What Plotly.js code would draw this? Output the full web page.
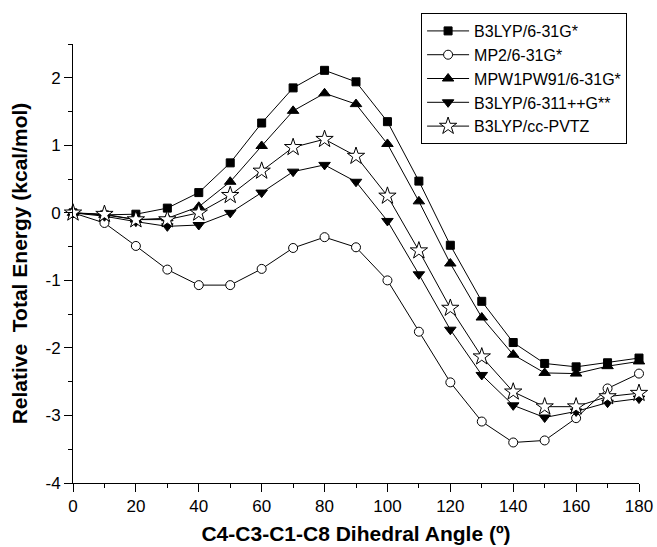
<!DOCTYPE html>
<html>
<head>
<meta charset="utf-8">
<script src="https://cdn.plot.ly/plotly-3.0.1.min.js"></script>
<style>html,body{margin:0;padding:0;background:#fff;}#chart{width:657px;height:547px;}</style>
</head>
<body>
<div id="chart"></div>
<script>
var angles = [0,10,20,30,40,50,60,70,80,90,100,110,120,130,140,150,160,170,180];
var b3lyp631 = [0,-0.03,-0.02,0.07,0.30,0.74,1.33,1.85,2.11,1.94,1.35,0.47,-0.48,-1.31,-1.92,-2.23,-2.28,-2.22,-2.15];
var mp2 = [0,-0.15,-0.49,-0.84,-1.07,-1.07,-0.83,-0.52,-0.36,-0.51,-1.00,-1.76,-2.51,-3.09,-3.40,-3.37,-3.04,-2.60,-2.38];
var mpw1 = [0,-0.03,-0.10,-0.08,0.09,0.46,0.99,1.51,1.77,1.61,1.02,0.17,-0.75,-1.55,-2.10,-2.37,-2.38,-2.27,-2.20];
var b3lyp6311 = [0,-0.05,-0.13,-0.20,-0.18,0.00,0.30,0.61,0.71,0.46,-0.12,-0.91,-1.73,-2.40,-2.85,-3.03,-2.94,-2.81,-2.75];
var b3lypcc = [0,-0.02,-0.10,-0.10,0.00,0.26,0.62,0.97,1.09,0.84,0.25,-0.56,-1.41,-2.13,-2.65,-2.87,-2.87,-2.72,-2.67];
var names = ['B3LYP/6-31G*','MP2/6-31G*','MPW1PW91/6-31G*','B3LYP/6-311++G**','B3LYP/cc-PVTZ'];
var yTickVals = [-4,-3,-2,-1,0,1,2];
var yTickText = ['-4','-3','-2','-1','0','1','2'];
var xTickVals = [0,20,40,60,80,100,120,140,160,180];

function tr(y, name, symbol, size, fill){
  return {x: angles, y: y, name: name, type:'scatter', mode:'lines+markers', cliponaxis:false,
    line:{color:'#000', width:1},
    marker:{symbol: symbol, size: size, color: fill, line:{color:'#000', width:1}}};
}
var data = [
  tr(b3lyp631, names[0], 'square', 8, '#000'),
  tr(mp2, names[1], 'circle', 9, '#fff'),
  tr(mpw1, names[2], 'triangle-up', 10, '#000'),
  tr(b3lyp6311, names[3], 'triangle-down', 10, '#000'),
  tr(b3lypcc, names[4], 'star', 13, '#fff')
];
var font = 'Arial, "Liberation Sans", sans-serif';
var layout = {
  width:657, height:547,
  margin:{l:73, r:18, t:44, b:64},
  paper_bgcolor:'#fff', plot_bgcolor:'#fff',
  font:{family:font, color:'#000', size:17},
  showlegend:true,
  legend:{x:0.615, y:1.0706, xanchor:'left', yanchor:'top', bordercolor:'#000', borderwidth:1,
    bgcolor:'#fff', font:{family:font, size:16, color:'#000'}, itemwidth:42, tracegroupgap:0},
  xaxis:{range:[0,180], showline:true, linecolor:'#000', linewidth:1, showgrid:false, zeroline:false,
    ticks:'outside', ticklen:8, tickwidth:1, tickcolor:'#000', tickmode:'array', tickvals:xTickVals,
    tickfont:{family:font, size:17, color:'#000'},
    minor:{dtick:10, tick0:0, ticks:'outside', ticklen:4, tickwidth:1, tickcolor:'#000', showgrid:false},
    title:{text:'C4-C3-C1-C8 Dihedral Angle (º)', font:{family:font, size:21, weight:'bold', color:'#000'}, standoff:10}},
  yaxis:{range:[-4,2.5], showline:true, linecolor:'#000', linewidth:1, showgrid:false, zeroline:false,
    ticks:'outside', ticklen:8, tickwidth:1, tickcolor:'#000', tickmode:'array', tickvals:yTickVals, ticktext:yTickText,
    tickfont:{family:font, size:17, color:'#000'},
    minor:{dtick:0.5, tick0:0, ticks:'outside', ticklen:4, tickwidth:1, tickcolor:'#000', showgrid:false},
    title:{text:'Relative  Total Energy (kcal/mol)', font:{family:font, size:21, weight:'bold', color:'#000'}, standoff:12}}
};
Plotly.newPlot('chart', data, layout, {staticPlot:true, displayModeBar:false});
</script>
</body>
</html>
